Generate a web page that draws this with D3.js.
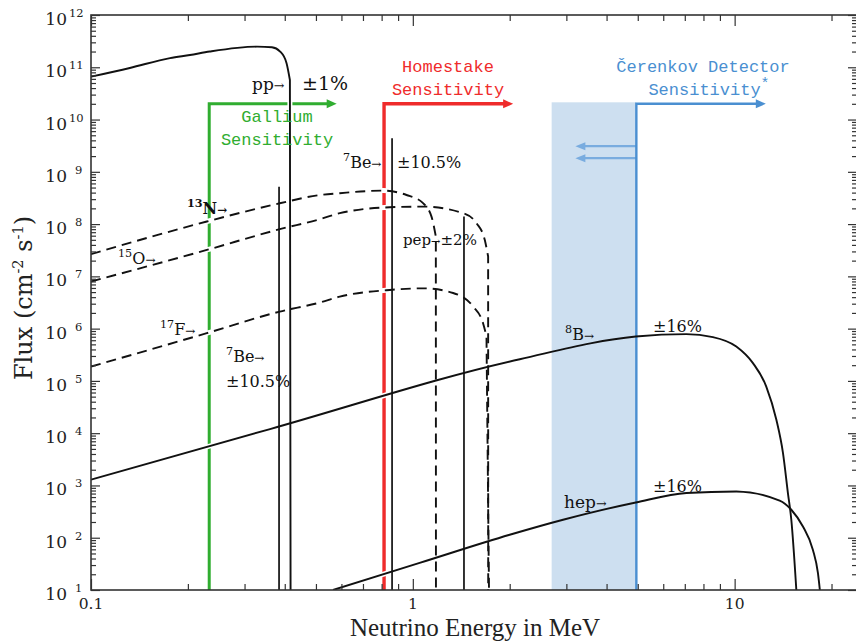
<!DOCTYPE html>
<html>
<head>
<meta charset="utf-8">
<script src="https://cdn.jsdelivr.net/npm/d3@7"></script>
<style>
  body { margin: 0; background: #fff; }
  svg { display: block; }
</style>
</head>
<body>
<div id="wrapper"></div>
<script>
// solar neutrino spectra: [energy (MeV), flux]
const ppSpectrum = [[0.1, 6.6e10], [0.132, 9.7e10], [0.176, 1.5e11], [0.203, 1.72e11], [0.234, 2.0e11],
  [0.328, 2.48e11], [0.365, 2.42e11], [0.387, 2.0e11], [0.405, 1.21e11], [0.415, 5.7e10]]
const ppEnd = 0.417

const n13Spectrum = [[0.1, 2.66e7], [0.229, 1.12e8], [0.386, 2.5e8], [0.514, 3.6e8], [0.593, 3.9e8],
  [0.807, 4.37e8], [0.956, 3.6e8], [1.074, 2.54e8], [1.143, 1.39e8], [1.179, 5.8e7]]
const n13End = 1.18

const o15Spectrum = [[0.1, 7.96e6], [0.229, 3.2e7], [0.386, 8.0e7], [0.514, 1.24e8], [0.593, 1.62e8],
  [0.848, 2.1e8], [1.08, 2.16e8], [1.433, 1.62e8], [1.577, 1.04e8], [1.673, 5.0e7], [1.714, 2.4e7]]
const o15End = 1.715

const f17Spectrum = [[0.1, 1.88e5], [0.229, 8.2e5], [0.386, 2.12e6], [0.514, 3.15e6], [0.593, 4.1e6],
  [0.848, 5.5e6], [1.08, 5.9e6], [1.334, 4.8e6], [1.539, 2.65e6], [1.653, 1.27e6], [1.694, 7.1e5]]
const f17End = 1.725

const b8Spectrum = [[0.1, 1.29e3], [0.36, 1.2e4], [2.15, 2.6e5], [4.93, 7.06e5], [7.08, 7.85e5],
  [8.56, 6.9e5], [10.12, 4.55e5], [11.4, 2.19e5], [12.54, 7.8e4], [13.48, 1.8e4], [14.13, 4.2e3],
  [14.64, 716], [15.0, 221], [15.55, 10]]

const hepSpectrum = [[0.565, 10], [1.05, 33], [2.0, 114], [2.93, 221], [4.93, 473], [7.08, 716],
  [10.12, 768], [13.8, 513], [15.0, 343], [16.3, 164], [17.5, 59], [18.15, 21], [18.4, 10]]

// line sources: [energy, flux]
const beLines = [[0.384, 5.2e8], [0.862, 4.4e9]]
const pepLines = [[1.442, 1.4e8]]

// detector thresholds (MeV) and arrow ends
const galliumThreshold = 0.233, galliumArrowEnd = 0.58
const homestakeThreshold = 0.814, homestakeArrowEnd = 2.05
const cerenkovThreshold = 4.95, cerenkovArrowEnd = 12.5
const sensitivityLevel = 2e10
const cerenkovBand = [2.7, 4.95]
const cerenkovBackArrows = [3.1e9, 1.82e9]
const cerenkovBackArrowEnd = 3.2

// axis ticks
const xMajorTicks = [0.1, 1, 10]
const xMinorTicks = [0.2, 0.3, 0.4, 0.5, 0.6, 0.7, 0.8, 0.9, 2, 3, 4, 5, 6, 7, 8, 9, 20]
const yExponents = [1, 2, 3, 4, 5, 6, 7, 8, 9, 10, 11, 12]
const yMinorTicks = yExponents.slice(0, -1).flatMap(e => [2, 3, 4, 5, 6, 7, 8, 9].map(k => k * Math.pow(10, e)))

// annotations: parts are [text, kind] with kind n=normal, s=superscript, a=small arrow
const annotations = [
  {x: 252, y: 90, size: 17, parts: [["pp", "n"], ["→", "a"]]},
  {x: 302, y: 90, size: 19, parts: [["±1%", "n"]]},
  {x: 343, y: 168, size: 16, parts: [["7", "s"], ["Be", "n"], ["→", "a"]]},
  {x: 397, y: 168, size: 16, parts: [["±10.5%", "n"]]},
  {x: 187, y: 214, size: 16, bold: true, parts: [["13", "s"], ["N", "n"], ["→", "a"]]},
  {x: 118, y: 264, size: 16, parts: [["15", "s"], ["O", "n"], ["→", "a"]]},
  {x: 160, y: 335, size: 16, parts: [["17", "s"], ["F", "n"], ["→", "a"]]},
  {x: 226, y: 362, size: 16, parts: [["7", "s"], ["Be", "n"], ["→", "a"]]},
  {x: 226, y: 387, size: 16, parts: [["±10.5%", "n"]]},
  {x: 403, y: 245, size: 15, parts: [["pep", "n"], ["→", "a"], ["±2%", "n"]]},
  {x: 565, y: 340, size: 16, parts: [["8", "s"], ["B", "n"], ["→", "a"]]},
  {x: 653, y: 332, size: 16, parts: [["±16%", "n"]]},
  {x: 564, y: 508, size: 17, parts: [["hep", "n"], ["→", "a"]]},
  {x: 653, y: 492, size: 16, parts: [["±16%", "n"]]},
]

function drawChart() {
  const dimensions = {width: 856, height: 642, left: 91, right: 857, top: 15, bottom: 590}

  const svg = d3.select("#wrapper").append("svg")
    .attr("width", dimensions.width)
    .attr("height", dimensions.height)

  const xScale = d3.scaleLog().domain([0.1, 24]).range([dimensions.left, dimensions.right])
  const yScale = d3.scaleLog().domain([10, 1e12]).range([dimensions.bottom, dimensions.top])

  svg.append("clipPath").attr("id", "plot-clip")
    .append("rect")
    .attr("x", dimensions.left).attr("y", dimensions.top)
    .attr("width", dimensions.right - dimensions.left)
    .attr("height", dimensions.bottom - dimensions.top)

  const plot = svg.append("g").attr("clip-path", "url(#plot-clip)")

  const green = "#30ad30", red = "#ef2b2b", blue = "#4a8fd1", lightBlue = "#79acdf", band = "#cddff0"
  const yLevel = yScale(sensitivityLevel)
  const yFloor = dimensions.bottom

  // green & red sensitivity steps
  const stepArrow = (threshold, end, color, width) => {
    const x0 = xScale(threshold), x1 = xScale(end)
    plot.append("path")
      .attr("d", `M${x0},${yFloor + 2}V${yLevel}H${x1 - 8}`)
      .attr("fill", "none").attr("stroke", color).attr("stroke-width", width)
    plot.append("path")
      .attr("d", `M${x1},${yLevel}L${x1 - 10},${yLevel - 4.5}L${x1 - 10},${yLevel + 4.5}Z`)
      .attr("fill", color)
  }
  stepArrow(galliumThreshold, galliumArrowEnd, green, 3)
  stepArrow(homestakeThreshold, homestakeArrowEnd, red, 3.4)

  // spectrum lines
  const lineGen = d3.line()
    .x(d => xScale(d[0]))
    .y(d => yScale(d[1]))
    .curve(d3.curveMonotoneX)

  const spectra = [
    {data: ppSpectrum, end: ppEnd, dashed: false},
    {data: n13Spectrum, end: n13End, dashed: true},
    {data: o15Spectrum, end: o15End, dashed: true},
    {data: f17Spectrum, end: f17End, dashed: true},
    {data: b8Spectrum, end: null, dashed: false},
    {data: hepSpectrum, end: null, dashed: false},
  ]
  const spectrumPath = s => lineGen(s.data) + (s.end ? `L${xScale(s.end)},${yFloor + 2}` : "")

  // white halos break the coloured lines where curves cross them
  plot.selectAll(".halo")
    .data(spectra)
    .enter()
    .append("path")
    .attr("class", "halo")
    .attr("d", spectrumPath)
    .attr("fill", "none")
    .attr("stroke", "#fff")
    .attr("stroke-width", 5)

  // Cerenkov band and step
  plot.append("rect")
    .attr("x", xScale(cerenkovBand[0]))
    .attr("y", yLevel - 1.5)
    .attr("width", xScale(cerenkovBand[1]) - xScale(cerenkovBand[0]))
    .attr("height", yFloor - yLevel + 1.5)
    .attr("fill", band)

  const cx0 = xScale(cerenkovThreshold)
  const backEnd = xScale(cerenkovBackArrowEnd)
  cerenkovBackArrows.forEach(v => {
    const yy = yScale(v)
    plot.append("path")
      .attr("d", `M${cx0},${yy}H${backEnd + 7}`)
      .attr("stroke", lightBlue).attr("stroke-width", 2.2).attr("fill", "none")
    plot.append("path")
      .attr("d", `M${backEnd},${yy}L${backEnd + 10},${yy - 4}L${backEnd + 10},${yy + 4}Z`)
      .attr("fill", lightBlue)
  })
  stepArrow(cerenkovThreshold, cerenkovArrowEnd, blue, 2.4)

  plot.selectAll(".spectrum")
    .data(spectra)
    .enter()
    .append("path")
    .attr("class", "spectrum")
    .attr("d", spectrumPath)
    .attr("fill", "none")
    .attr("stroke", "#111")
    .attr("stroke-width", 1.9)
    .attr("stroke-dasharray", s => s.dashed ? "10,6" : null)

  // monoenergetic lines
  plot.selectAll(".mono")
    .data(beLines.concat(pepLines))
    .enter()
    .append("line")
    .attr("class", "mono")
    .attr("x1", d => xScale(d[0])).attr("x2", d => xScale(d[0]))
    .attr("y1", d => yScale(d[1])).attr("y2", yFloor)
    .attr("stroke", "#111").attr("stroke-width", 1.7)

  // axes (ticks point inward)
  const axes = svg.append("g").attr("class", "axes")
  const addAxis = (gen, transform) => {
    const g = axes.append("g").attr("transform", transform).call(gen)
    g.select(".domain").remove()
    g.selectAll("line").attr("stroke", "#333").attr("stroke-width", 1.2)
  }
  const ticksX = (axis, vals, size) => axis(xScale).tickValues(vals).tickSize(-size).tickFormat("")
  const ticksY = (axis, vals, size) => axis(yScale).tickValues(vals).tickSize(-size).tickFormat("")
  const yMajorValues = yExponents.map(e => Math.pow(10, e))

  addAxis(ticksX(d3.axisBottom, xMinorTicks, 6), `translate(0,${dimensions.bottom})`)
  addAxis(ticksX(d3.axisBottom, xMajorTicks, 11), `translate(0,${dimensions.bottom})`)
  addAxis(ticksX(d3.axisTop, xMinorTicks, 6), `translate(0,${dimensions.top})`)
  addAxis(ticksX(d3.axisTop, xMajorTicks, 11), `translate(0,${dimensions.top})`)
  addAxis(ticksY(d3.axisLeft, yMinorTicks, 5), `translate(${dimensions.left},0)`)
  addAxis(ticksY(d3.axisLeft, yMajorValues, 9), `translate(${dimensions.left},0)`)
  addAxis(ticksY(d3.axisRight, yMinorTicks, 5), `translate(${dimensions.right},0)`)
  addAxis(ticksY(d3.axisRight, yMajorValues, 9), `translate(${dimensions.right},0)`)

  axes.append("rect")
    .attr("x", dimensions.left).attr("y", dimensions.top)
    .attr("width", dimensions.right - dimensions.left)
    .attr("height", dimensions.bottom - dimensions.top)
    .attr("fill", "none").attr("stroke", "#333").attr("stroke-width", 1.6)

  const serif = "'DejaVu Serif', serif"
  const mono = "'Liberation Mono', 'DejaVu Sans Mono', monospace"

  // y tick labels 10^n
  yExponents.forEach(e => {
    const yy = yScale(Math.pow(10, e))
    axes.append("text")
      .attr("x", 67).attr("y", yy + 10)
      .attr("text-anchor", "end")
      .attr("font-family", serif).attr("font-size", 17).attr("fill", "#222")
      .text("10")
    axes.append("text")
      .attr("x", e >= 10 ? 69 : 75).attr("y", yy + 2)
      .attr("font-family", serif).attr("font-size", 11.5).attr("fill", "#222")
      .text(e)
  })

  // x tick labels
  axes.selectAll(".xlab")
    .data(xMajorTicks)
    .enter()
    .append("text")
    .attr("class", "xlab")
    .attr("x", d => xScale(d)).attr("y", 609)
    .attr("text-anchor", "middle")
    .attr("font-family", serif).attr("font-size", 15.5).attr("fill", "#222")
    .text(d => d)

  // axis titles
  svg.append("text")
    .attr("x", 475).attr("y", 636)
    .attr("text-anchor", "middle")
    .attr("font-family", "'Liberation Serif', serif").attr("font-size", 25).attr("fill", "#222")
    .text("Neutrino Energy in MeV")

  const yTitle = svg.append("text")
    .attr("transform", "translate(32,298) rotate(-90)")
    .attr("text-anchor", "middle")
    .attr("font-family", serif).attr("font-size", 24).attr("fill", "#222")
  yTitle.append("tspan").text("Flux (cm")
  yTitle.append("tspan").attr("dy", -9).attr("font-size", 14.5).text("-2")
  yTitle.append("tspan").attr("dy", 9).text(" s")
  yTitle.append("tspan").attr("dy", -9).attr("font-size", 14.5).text("-1")
  yTitle.append("tspan").attr("dy", 9).text(")")

  // detector labels
  const detectorLabel = (lines, cx, y0, color) => {
    lines.forEach((s, i) => {
      svg.append("text")
        .attr("x", cx).attr("y", y0 + i * 23)
        .attr("text-anchor", "middle")
        .attr("font-family", mono).attr("font-size", 17).attr("fill", color)
        .text(s)
    })
  }
  detectorLabel(["Gallium", "Sensitivity"], 277, 122, green)
  detectorLabel(["Homestake", "Sensitivity"], 448, 72, red)
  detectorLabel(["Čerenkov Detector"], 703, 72, blue)
  const cer = svg.append("text")
    .attr("x", 709).attr("y", 95)
    .attr("text-anchor", "middle")
    .attr("font-family", mono).attr("font-size", 17).attr("fill", blue)
  cer.append("tspan").text("Sensitivity")
  cer.append("tspan").attr("dy", -7).attr("font-size", 15).text("*")

  // source annotations
  annotations.forEach(a => {
    const t = svg.append("text")
      .attr("x", a.x).attr("y", a.y)
      .attr("font-family", serif).attr("font-size", a.size).attr("fill", "#111")
      .attr("font-weight", a.bold ? "bold" : "normal")
    let shift = 0
    a.parts.forEach(([s, kind]) => {
      const target = kind === "s" ? -0.42 * a.size : 0
      const ts = t.append("tspan").attr("dy", target - shift).text(s)
      shift = target
      if (kind === "s") ts.attr("font-size", a.size * 0.7)
      if (kind === "a") ts.attr("font-size", a.size * 0.75)
    })
  })
}

drawChart()
</script>
</body>
</html>
